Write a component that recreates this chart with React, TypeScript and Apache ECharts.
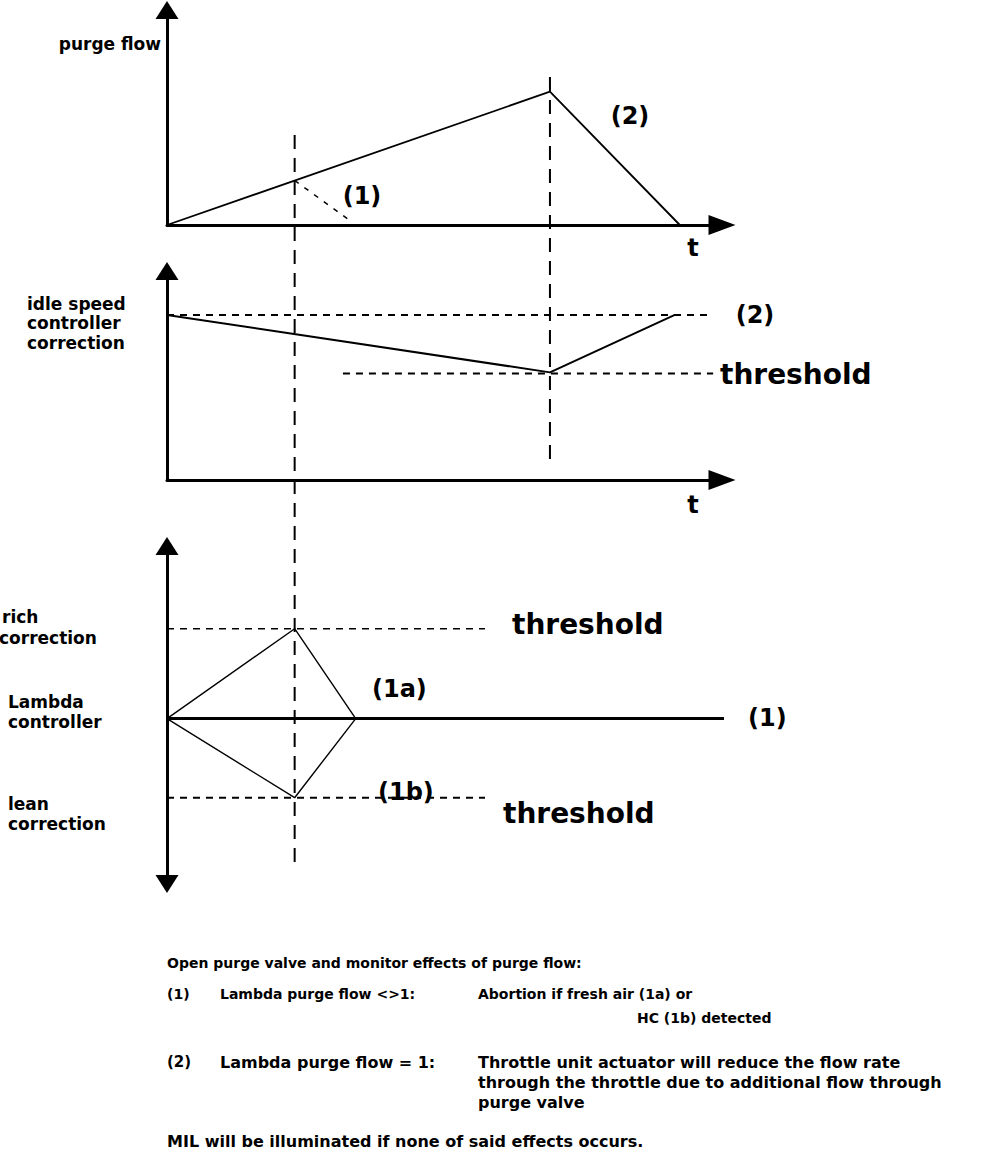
import React, { useEffect, useRef } from "react";
import * as echarts from "echarts";

// ---- data (time axis 0..100, value axes 0..100 / -92..96) ----
const eventTimes = [23, 69];
const purgeTime = [0, 69, 92.4];
const purgeFlow = [0, 62, 0];
const purgeAbortTime = [23, 33];
const purgeAbortFlow = [20.7, 2];

const idleTime = [0, 69, 91.5];
const idleCorr = [79, 51.5, 79];
const idleRefTime = [0, 98];
const idleRef = [79, 79];
const idleThrTime = [31.7, 98.4];
const idleThr = [51, 51];

const richTime = [0, 23, 34];
const richCorr = [0, 50, 0];
const leanTime = [0, 23, 34];
const leanCorr = [0, -44, 0];
const lambdaTime = [0, 102.7];
const lambdaVal = [0, 0];
const richThrTime = [0, 57.3];
const richThr = [50, 50];
const leanThrTime = [0, 57.3];
const leanThr = [-44, -44];

// vertical guide extents in the overlay (page) axis
const guide1Extent = [135, 868];
const guide2Extent = [77, 463];

const zip = (a: number[], b: number[]) => a.map((v, i) => [v, b[i]]);

const FONT = '"DejaVu Sans", "Liberation Sans", sans-serif';

function txt(text: string, x: number, y: number, size: number, align = "left") {
  return {
    type: "text",
    x,
    y,
    style: {
      text,
      fill: "#000",
      fontSize: size,
      fontWeight: "bold",
      fontFamily: FONT,
      textAlign: align,
      textVerticalAlign: "middle",
    },
  };
}

export default function App() {
  const ref = useRef<HTMLDivElement>(null);
  useEffect(() => {
    if (!ref.current) return;
    const chart = echarts.init(ref.current, undefined, { renderer: "svg" });
    const left = 167;
    const right = 992 - 722;
    const axisLine = (symbol: string[], size: number[]) => ({
      show: true,
      onZero: true,
      lineStyle: { color: "#000", width: 3 },
      symbol,
      symbolSize: size,
    });
    const hidden = { axisTick: { show: false }, axisLabel: { show: false }, splitLine: { show: false } };
    const line = (data: number[][], idx: number, width: number, type: any = "solid", extra: any = {}) => ({
      type: "line",
      xAxisIndex: idx,
      yAxisIndex: idx,
      data,
      symbol: "none",
      animation: false,
      silent: true,
      clip: false,
      lineStyle: { color: "#000", width, type },
      ...extra,
    });
    const dash = [7, 6];
    const longDash = [14, 9];
    chart.setOption({
      animation: false,
      backgroundColor: "#fff",
      grid: [
        { left, right, top: 10, bottom: 1150 - 225 },
        { left, right, top: 271, bottom: 1150 - 480 },
        { left, right, top: 546, bottom: 1150 - 884 },
        { left, right, top: 0, bottom: 0 },
      ],
      xAxis: [
        { type: "value", gridIndex: 0, min: 0, max: 100, axisLine: axisLine(["none", "triangle"], [20, 27]), ...hidden },
        { type: "value", gridIndex: 1, min: 0, max: 100, axisLine: axisLine(["none", "triangle"], [20, 27]), ...hidden },
        { type: "value", gridIndex: 2, min: 0, max: 100, axisLine: { show: false }, ...hidden },
        { type: "value", gridIndex: 3, min: 0, max: 100, axisLine: { show: false }, ...hidden },
      ],
      yAxis: [
        { type: "value", gridIndex: 0, min: 0, max: 100, axisLine: axisLine(["none", "triangle"], [23, 18]), ...hidden },
        { type: "value", gridIndex: 1, min: 0, max: 100, axisLine: axisLine(["none", "triangle"], [23, 18]), ...hidden },
        { type: "value", gridIndex: 2, min: -92, max: 96, axisLine: { ...axisLine(["triangle", "triangle"], [23, 18]), onZero: false }, ...hidden },
        { type: "value", gridIndex: 3, min: 0, max: 1150, inverse: true, axisLine: { show: false }, ...hidden },
      ],
      series: [
        // panel 1
        line(zip(purgeTime, purgeFlow), 0, 1.8),
        line(zip(purgeAbortTime, purgeAbortFlow), 0, 1.5, [5, 7]),
        // panel 2
        line(zip(idleRefTime, idleRef), 1, 2, dash),
        line(zip(idleThrTime, idleThr), 1, 2, dash),
        line(zip(idleTime, idleCorr), 1, 2),
        // panel 3
        line(zip(richThrTime, richThr), 2, 1.6, dash),
        line(zip(leanThrTime, leanThr), 2, 2, dash),
        line(zip(richTime, richCorr), 2, 1.4),
        line(zip(leanTime, leanCorr), 2, 1.4),
        line(zip(lambdaTime, lambdaVal), 2, 3),
        // guides
        line([[eventTimes[0], guide1Extent[0]], [eventTimes[0], guide1Extent[1]]], 3, 2, longDash),
        line([[eventTimes[1], guide2Extent[0]], [eventTimes[1], guide2Extent[1]]], 3, 2, longDash),
      ],
      graphic: [
        txt("purge flow", 161, 44, 17, "right"),
        txt("(1)", 362, 196, 24, "center"),
        txt("(2)", 630, 116, 24, "center"),
        txt("t", 693, 248, 24, "center"),
        txt("idle speed", 27, 304, 17),
        txt("controller", 27, 323, 17),
        txt("correction", 27, 343, 17),
        txt("(2)", 755, 315, 24, "center"),
        txt("threshold", 720, 374, 28),
        txt("t", 693, 505, 24, "center"),
        txt("rich", 2, 617, 17),
        txt("correction", -1, 638, 17),
        txt("Lambda", 8, 702, 17),
        txt("controller", 8, 722, 17),
        txt("lean", 8, 804, 17),
        txt("correction", 8, 824, 17),
        txt("threshold", 512, 624, 28),
        txt("(1a)", 372, 689, 24),
        txt("(1)", 748, 718, 24),
        txt("(1b)", 378, 792, 24),
        txt("threshold", 503, 813, 28),
        txt("Open purge valve and monitor effects of purge flow:", 167, 963, 14),
        txt("(1)", 167, 994, 14),
        txt("Lambda purge flow <>1:", 220, 994, 14),
        txt("Abortion if fresh air (1a) or", 478, 994, 14),
        txt("HC (1b) detected", 637, 1018, 14),
        txt("(2)", 167, 1062, 15),
        txt("Lambda purge flow = 1:", 220, 1062, 16),
        txt("Throttle unit actuator will reduce the flow rate", 478, 1062, 16),
        txt("through the throttle due to additional flow through", 478, 1082, 16),
        txt("purge valve", 478, 1102, 16),
        txt("MIL will be illuminated if none of said effects occurs.", 167, 1141, 16),
      ],
    });
    return () => chart.dispose();
  }, []);
  return (
    <div
      ref={ref}
      style={{ position: "absolute", left: 0, top: 0, width: 992, height: 1150, background: "#fff" }}
    />
  );
}
